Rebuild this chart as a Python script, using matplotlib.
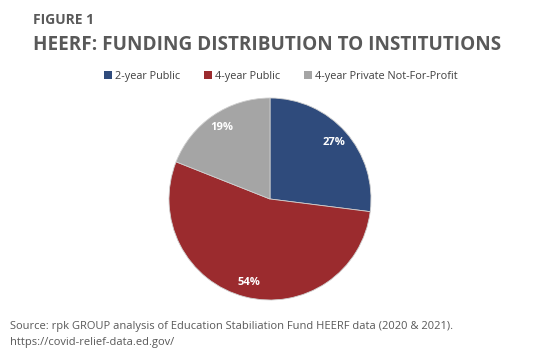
import matplotlib
matplotlib.use('Agg')
import matplotlib.pyplot as plt
from matplotlib.patches import Patch

labels = ['2-year Public', '4-year Public', '4-year Private Not-For-Profit']
shares = [27, 54, 19]
colors = ['#2F4B7C', '#9B2B2E', '#A5A5A5']

W, H = 556, 362
fig = plt.figure(figsize=(W / 100, H / 100), dpi=100)
fig.patch.set_facecolor('white')

# pie axes placed in pixel terms: centre (270, 199), radius ~101
cx, cy, r = 270, 199, 101
ax = fig.add_axes([(cx - r) / W, 1 - (cy + r) / H, 2 * r / W, 2 * r / H])
wedges, texts, autotexts = ax.pie(
    shares, colors=colors, startangle=90, counterclock=False,
    autopct='%d%%', pctdistance=0.85,
    wedgeprops=dict(edgecolor='#cfcfcf', linewidth=0.6),
    textprops=dict(color='white', fontsize=8, fontweight='bold', family='Open Sans'))
ax.set_xlim(-1, 1)
ax.set_ylim(-1, 1)
ax.set_aspect('equal')
ax.axis('off')

title_col = '#595959'
fig.text(33 / W, 1 - 20 / H, 'FIGURE 1', fontsize=10, fontweight='bold',
         color=title_col, family='Open Sans', va='center', ha='left')
fig.text(33 / W, 1 - 45 / H, 'HEERF: FUNDING DISTRIBUTION TO INSTITUTIONS', fontsize=13.6,
         fontweight='bold', color=title_col, family='Open Sans', va='center', ha='left')

handles = [Patch(facecolor=c, edgecolor='none') for c in colors]
fig.legend(handles, labels, loc='center', bbox_to_anchor=(281 / W, 1 - 76 / H), ncol=3,
           frameon=False, handlelength=0.7, handleheight=0.7,
           handletextpad=0.3, columnspacing=2.2, labelcolor='#404040',
           prop=dict(family='Open Sans', size=7.8))

fig.text(10 / W, 1 - 327 / H,
         'Source: rpk GROUP analysis of Education Stabiliation Fund HEERF data (2020 & 2021).',
         fontsize=8, color=title_col, family='Open Sans', va='center', ha='left')
fig.text(10 / W, 1 - 343 / H, 'https://covid-relief-data.ed.gov/',
         fontsize=8, color=title_col, family='Open Sans', va='center', ha='left')

fig.savefig('out.png', dpi=100)
